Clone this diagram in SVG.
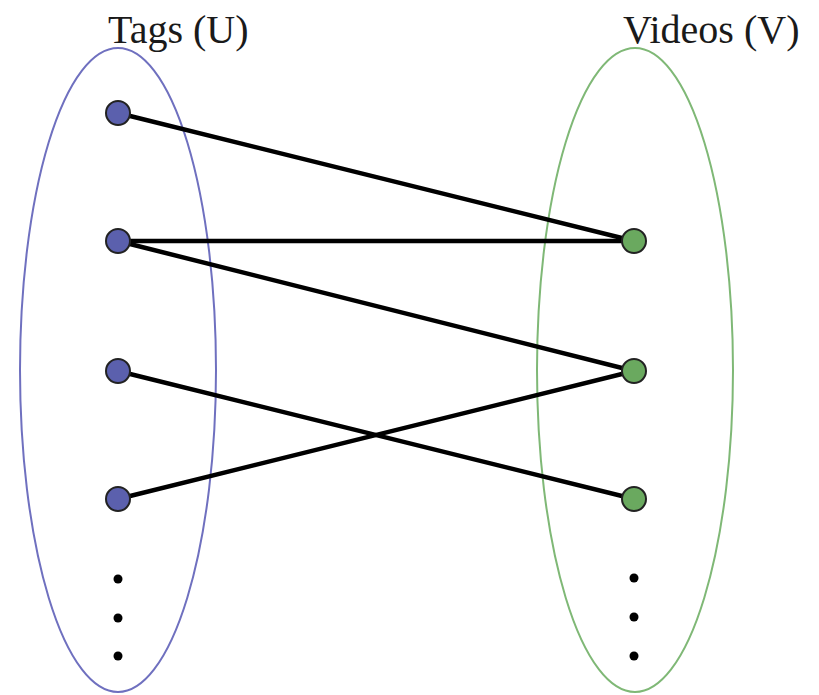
<svg xmlns="http://www.w3.org/2000/svg" width="819" height="695" viewBox="0 0 819 695">
  <style>
    .label { font-family: "Liberation Serif", "Times New Roman", serif; font-size: 40px; fill: #1a1a1a; }
    .set { fill: none; stroke-width: 2; }
    .edge { stroke: #000; stroke-width: 4.5; stroke-linecap: round; }
    .u { fill: #5b60ad; stroke: #222; stroke-width: 2; }
    .v { fill: #6aa95f; stroke: #222; stroke-width: 2; }
    .dot { fill: #000; }
  </style>
  <rect width="819" height="695" fill="#fff"/>

  <!-- set outlines -->
  <ellipse class="set" cx="118" cy="370" rx="98" ry="322" stroke="#6f70bf"/>
  <ellipse class="set" cx="635" cy="370" rx="98" ry="322" stroke="#7fb876"/>

  <text class="label" x="108" y="43">Tags (U)</text>
  <text class="label" x="623" y="43">Videos (V)</text>

  <!-- edges between tags and videos -->
  <g id="edges">
    <line class="edge" x1="118" y1="113" x2="634" y2="241"/>
    <line class="edge" x1="118" y1="241" x2="634" y2="241"/>
    <line class="edge" x1="118" y1="241" x2="634" y2="371"/>
    <line class="edge" x1="118" y1="371" x2="634" y2="499"/>
    <line class="edge" x1="118" y1="499" x2="634" y2="371"/>
  </g>

  <!-- tag nodes -->
  <g id="u1"><circle class="u" cx="118" cy="113" r="12"/></g>
  <g id="u2"><circle class="u" cx="118" cy="241" r="12"/></g>
  <g id="u3"><circle class="u" cx="118" cy="371" r="12"/></g>
  <g id="u4"><circle class="u" cx="118" cy="499" r="12"/></g>

  <!-- video nodes -->
  <g id="v1"><circle class="v" cx="634" cy="241" r="12"/></g>
  <g id="v2"><circle class="v" cx="634" cy="371" r="12"/></g>
  <g id="v3"><circle class="v" cx="634" cy="499" r="12"/></g>

  <!-- ellipsis dots -->
  <g id="u-more">
    <circle class="dot" cx="118" cy="579" r="4.5"/>
    <circle class="dot" cx="118" cy="618" r="4.5"/>
    <circle class="dot" cx="118" cy="656" r="4.5"/>
  </g>
  <g id="v-more">
    <circle class="dot" cx="634" cy="578" r="4.5"/>
    <circle class="dot" cx="634" cy="617" r="4.5"/>
    <circle class="dot" cx="634" cy="656" r="4.5"/>
  </g>
</svg>
